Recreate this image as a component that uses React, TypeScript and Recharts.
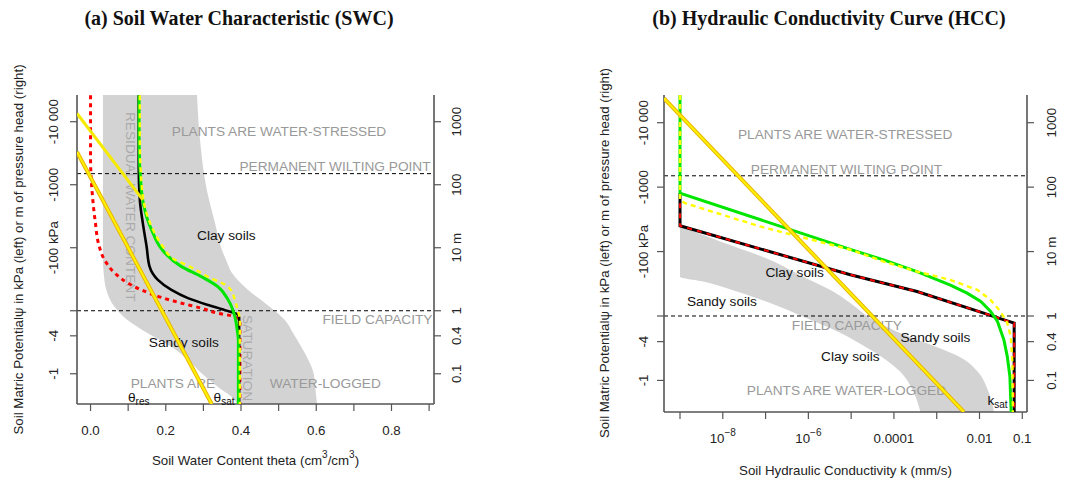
import { ComposedChart, Area, Scatter, XAxis, YAxis, ReferenceLine, ReferenceDot } from "recharts";

const FONT = '"Liberation Sans", Arial, sans-serif';
const SERIF = '"Liberation Serif", "Times New Roman", serif';
const AXIS = "#555";
const NOTE = "#999";

// ---------- (a) soil water characteristic: theta vs log10(kPa) ----------
const swcBandPsi = [4.424, 3.71, 2.92, 2.39, 1.97, 1.81, 1.6, 1.33, 1.06, 0.85, 0.64, 0.43, 0.22, 0.01, -0.21, -0.42, -0.48];
const swcBandLo = [0.033, 0.033, 0.033, 0.033, 0.033, 0.033, 0.035, 0.042, 0.064, 0.099, 0.153, 0.215, 0.259, 0.295, 0.339, 0.384, 0.39];
const swcBandHi = [0.283, 0.291, 0.309, 0.331, 0.349, 0.36, 0.376, 0.419, 0.477, 0.517, 0.539, 0.56, 0.579, 0.593, 0.597, 0.601, 0.602];

const sandTheta = [0.0, 0.0, 0.006, 0.013, 0.021, 0.037, 0.064, 0.099, 0.135, 0.189, 0.242, 0.295, 0.339, 0.375, 0.392, 0.397, 0.397];
const sandPsi = [4.42, 3.44, 2.76, 2.39, 2.07, 1.81, 1.6, 1.44, 1.33, 1.21, 1.12, 1.04, 0.96, 0.92, 0.88, 0.85, -0.48];

const loamTheta = [0.128, 0.128, 0.131, 0.139, 0.149, 0.157, 0.179, 0.215, 0.259, 0.313, 0.357, 0.393, 0.395, 0.395];
const loamPsi = [4.42, 3.29, 2.76, 2.39, 2.02, 1.7, 1.49, 1.33, 1.2, 1.09, 1.01, 0.93, 0.88, -0.48];

const clayTheta = [0.129, 0.129, 0.135, 0.149, 0.166, 0.184, 0.197, 0.242, 0.295, 0.339, 0.366, 0.384, 0.39, 0.393, 0.393];
const clayPsi = [4.42, 3.71, 2.92, 2.49, 2.23, 2.02, 1.92, 1.7, 1.54, 1.38, 1.17, 0.9, 0.69, 0.53, -0.48];

const siltTheta = [0.131, 0.131, 0.137, 0.152, 0.171, 0.192, 0.224, 0.264, 0.312, 0.366, 0.384, 0.391, 0.397, 0.397];
const siltPsi = [4.42, 3.71, 2.92, 2.49, 2.23, 2.02, 1.81, 1.7, 1.54, 1.38, 1.17, 1.01, 0.85, -0.48];

const upperLinTheta = [-0.036, 0.139];
const upperLinPsi = [4.13, 2.76];
const lowerLinTheta = [-0.036, 0.322];
const lowerLinPsi = [3.52, -0.48];

const swcXTicks = [0, 0.1, 0.2, 0.3, 0.4, 0.5, 0.6, 0.7, 0.8, 0.9];
const swcXLabels = ["0.0", "", "0.2", "", "0.4", "", "0.6", "", "0.8", ""];

// ---------- (b) hydraulic conductivity: log10(k) vs log10(kPa) ----------
const hccBandPsi = [2.4, 2.155, 1.87, 1.61, 1.535, 1.38, 1.2, 0.99, 0.76, 0.475, 0.35, 0.135, -0.14, -0.49];
const hccBandLo = [-9.0, -9.0, -9.0, -9.0, -8.46, -7.67, -6.89, -6.12, -5.32, -4.55, -4.25, -3.85, -3.57, -3.38];
const hccBandHi = [-9.0, -8.06, -6.89, -6.12, -5.89, -5.42, -5.02, -4.6, -3.94, -2.84, -2.42, -2.04, -1.81, -1.66];

const kLoamK = [-9.0, -9.0, -5.02, -3.46, -1.9, -1.66, -1.19, -1.19];
const kLoamPsi = [2.905, 2.4, 1.64, 1.38, 1.045, 0.99, 0.89, -0.49];

const kClayK = [-9.0, -9.0, -5.02, -4.24, -3.46, -2.68, -2.29, -1.97, -1.74, -1.58, -1.43, -1.35, -1.29, -1.26];
const kClayPsi = [4.43, 2.905, 2.034, 1.87, 1.69, 1.48, 1.355, 1.225, 1.07, 0.915, 0.63, 0.37, 0.06, -0.49];

const kSiltK = [-9.0, -9.0, -8.88, -7.13, -5.02, -4.24, -3.46, -2.68, -2.05, -1.74, -1.51, -1.35, -1.27, -1.23, -1.22];
const kSiltPsi = [4.43, 2.8, 2.75, 2.39, 2.03, 1.845, 1.69, 1.56, 1.405, 1.25, 1.07, 0.89, 0.68, 0.27, -0.49];

const kLinK = [-9.374, -2.365];
const kLinPsi = [4.378, -0.49];

const hccXTicks = [-9, -8, -7, -6, -5, -4, -3, -2, -1];
const hccXLabels = ["", "10", "", "10", "", "0.0001", "", "0.01", "0.1"];
const hccXSups = ["", "\u22128", "", "\u22126", "", "", "", "", ""];

// shared pressure axis
const psiTicks = [0, 0.602, 1, 2, 3, 4];
const kpaLabels = ["-1", "-4", "", "-100 kPa", "-1000", "-10 000"];
const headLabels = ["0.1", "0.4", "1", "10 m", "100", "1000"];
const PWP = 3.176;
const FC = 1;

type Note = { x: number; y: number; text: string; sub?: string; color?: string; anchor?: "start" | "middle" | "end"; rot?: boolean };

const swcNotes: Note[] = [
  { x: 0.107, y: 2.65, text: "RESIDUAL WATER CONTENT", color: "#aaa", rot: true },
  { x: 0.417, y: 0.25, text: "SATURATION", color: "#aaa", rot: true },
  { x: 0.501, y: 3.84, text: "PLANTS ARE WATER-STRESSED", color: NOTE },
  { x: 0.904, y: 3.29, text: "PERMANENT WILTING POINT", color: NOTE, anchor: "end" },
  { x: 0.909, y: 0.86, text: "FIELD CAPACITY", color: NOTE, anchor: "end" },
  { x: 0.219, y: -0.16, text: "PLANTS ARE", color: NOTE },
  { x: 0.624, y: -0.16, text: "WATER-LOGGED", color: NOTE },
  { x: 0.361, y: 2.19, text: "Clay soils" },
  { x: 0.248, y: 0.5, text: "Sandy soils" },
  { x: 0.128, y: -0.37, text: "\u03b8", sub: "res" },
  { x: 0.355, y: -0.37, text: "\u03b8", sub: "sat" },
];

const hccNotes: Note[] = [
  { x: -5.14, y: 3.82, text: "PLANTS ARE WATER-STRESSED", color: NOTE },
  { x: -5.11, y: 3.28, text: "PERMANENT WILTING POINT", color: NOTE },
  { x: -5.1, y: 0.85, text: "FIELD CAPACITY", color: NOTE },
  { x: -5.11, y: -0.16, text: "PLANTS ARE WATER-LOGGED", color: NOTE },
  { x: -6.32, y: 1.67, text: "Clay soils" },
  { x: -8.02, y: 1.22, text: "Sandy soils" },
  { x: -3.03, y: 0.66, text: "Sandy soils" },
  { x: -5.02, y: 0.37, text: "Clay soils" },
  { x: -1.58, y: -0.31, text: "k", sub: "sat" },
];

const pts = (xs: number[], ys: number[]) => xs.map((x, i) => ({ x, y: ys[i] }));
const band = (ys: number[], lo: number[], hi: number[]) => ys.map((y, i) => ({ y, band: [lo[i], hi[i]] }));

const NoDot = () => null;

const renderNote = (n: Note) => (props: any) => {
  const vb = props.viewBox || { x: 0, y: 0, width: 0, height: 0 };
  const cx = vb.x + (vb.width || 0) / 2;
  const cy = vb.y + (vb.height || 0) / 2;
  return (
    <text
      x={cx}
      y={cy}
      textAnchor={n.anchor ?? "middle"}
      dominantBaseline="central"
      fill={n.color ?? "#111"}
      fontSize={13.7}
      fontFamily={FONT}
      transform={n.rot ? `rotate(90 ${cx} ${cy})` : undefined}
    >
      {n.text}
      {n.sub && (
        <tspan fontSize={10} dy={4}>
          {n.sub}
        </tspan>
      )}
    </text>
  );
};

const yTick = (labels: string[], dx: number) => (p: any) => {
  const x = p.x + dx;
  const y = p.y;
  return (
    <text x={x} y={y} textAnchor="middle" dominantBaseline="central" transform={`rotate(-90 ${x} ${y})`} fontSize={13.3} fontFamily={FONT} fill="#222">
      {labels[p.index]}
    </text>
  );
};

const xTick = (labels: string[], sups?: string[]) => (p: any) => (
  <text x={p.x} y={p.y + 19} textAnchor="middle" dominantBaseline="central" fontSize={13.3} fontFamily={FONT} fill="#222">
    {labels[p.index]}
    {sups && sups[p.index] && (
      <tspan fontSize={10} dy={-6}>
        {sups[p.index]}
      </tspan>
    )}
  </text>
);

const line = (stroke: string, width: number, dash?: string) => ({ stroke, strokeWidth: width, strokeDasharray: dash, fill: "none" });

const axisLine = { stroke: AXIS, strokeWidth: 1.6 };
const tickLine = { stroke: AXIS, strokeWidth: 1.2 };

const App = () => {
  return (
    <div style={{ position: "absolute", left: 0, top: 0, width: 1065, height: 480, background: "#fff" }}>
      {/* (a) SWC */}
      <div style={{ position: "absolute", left: 0, top: 0 }}>
        <ComposedChart layout="vertical" width={484} height={480} data={band(swcBandPsi, swcBandLo, swcBandHi)} margin={{ top: 95, right: 0, bottom: 0, left: 0 }}>
          <XAxis type="number" dataKey="x" domain={[-0.036, 0.913]} ticks={swcXTicks} interval={0} allowDataOverflow height={76} tickSize={7} tickMargin={0} axisLine={axisLine} tickLine={tickLine} tick={xTick(swcXLabels)} />
          <YAxis type="number" dataKey="y" reversed domain={[-0.48, 4.424]} ticks={psiTicks} interval={0} allowDataOverflow width={77} tickSize={7} tickMargin={0} axisLine={axisLine} tickLine={tickLine} tick={yTick(kpaLabels, -16)} />
          <YAxis yAxisId="r" orientation="right" type="number" dataKey="y" reversed domain={[-0.48, 4.424]} ticks={psiTicks} interval={0} allowDataOverflow width={50} tickSize={7} tickMargin={0} axisLine={axisLine} tickLine={tickLine} tick={yTick(headLabels, 16)} />
          <Area dataKey="band" type="monotone" fill="#d3d3d3" fillOpacity={1} stroke="none" isAnimationActive={false} />
          <ReferenceLine y={PWP} stroke="#000" strokeDasharray="4 3" strokeWidth={1} />
          <ReferenceLine y={FC} stroke="#000" strokeDasharray="4 3" strokeWidth={1} />
          {swcNotes.map((n, i) => (
            <ReferenceDot key={i} x={n.x} y={n.y} r={0} fill="none" stroke="none" label={renderNote(n)} />
          ))}
          <Scatter data={pts(sandTheta, sandPsi)} shape={NoDot} lineJointType="monotoneY" line={line("#ff0000", 3, "4 4")} isAnimationActive={false} />
          <Scatter data={pts(loamTheta, loamPsi)} shape={NoDot} lineJointType="monotoneY" line={line("#000", 2.6)} isAnimationActive={false} />
          <Scatter data={pts(clayTheta, clayPsi)} shape={NoDot} lineJointType="monotoneY" line={line("#00e600", 3)} isAnimationActive={false} />
          <Scatter data={pts(siltTheta, siltPsi)} shape={NoDot} lineJointType="monotoneY" line={line("#ffff00", 2.4, "5 4")} isAnimationActive={false} />
          <Scatter data={pts(upperLinTheta, upperLinPsi)} shape={NoDot} line={line("#f5ea00", 3)} isAnimationActive={false} />
          <Scatter data={pts(lowerLinTheta, lowerLinPsi)} shape={NoDot} line={line("#e8b400", 4)} isAnimationActive={false} />
          <Scatter data={pts(lowerLinTheta, lowerLinPsi)} shape={NoDot} line={line("#fff200", 2)} isAnimationActive={false} />
        </ComposedChart>
      </div>

      {/* (b) HCC */}
      <div style={{ position: "absolute", left: 540, top: 0 }}>
        <ComposedChart layout="vertical" width={525} height={480} data={band(hccBandPsi, hccBandLo, hccBandHi)} margin={{ top: 95, right: 0, bottom: 0, left: 0 }}>
          <XAxis type="number" dataKey="x" domain={[-9.374, -0.89]} ticks={hccXTicks} interval={0} allowDataOverflow height={68} tickSize={7} tickMargin={0} axisLine={axisLine} tickLine={tickLine} tick={xTick(hccXLabels, hccXSups)} />
          <YAxis type="number" dataKey="y" reversed domain={[-0.49, 4.43]} ticks={psiTicks} interval={0} allowDataOverflow width={124} tickSize={7} tickMargin={0} axisLine={axisLine} tickLine={tickLine} tick={yTick(kpaLabels, -13)} />
          <YAxis yAxisId="r" orientation="right" type="number" dataKey="y" reversed domain={[-0.49, 4.43]} ticks={psiTicks} interval={0} allowDataOverflow width={38} tickSize={7} tickMargin={0} axisLine={axisLine} tickLine={tickLine} tick={yTick(headLabels, 18)} />
          <Area dataKey="band" type="monotone" fill="#d3d3d3" fillOpacity={1} stroke="none" isAnimationActive={false} />
          <ReferenceLine y={PWP} stroke="#000" strokeDasharray="4 3" strokeWidth={1} />
          <ReferenceLine y={FC} stroke="#000" strokeDasharray="4 3" strokeWidth={1} />
          {hccNotes.map((n, i) => (
            <ReferenceDot key={i} x={n.x} y={n.y} r={0} fill="none" stroke="none" label={renderNote(n)} />
          ))}
          <Scatter data={pts(kLoamK, kLoamPsi)} shape={NoDot} line={line("#000", 3)} isAnimationActive={false} />
          <Scatter data={pts(kLoamK, kLoamPsi)} shape={NoDot} line={line("#ff0000", 2, "5 5")} isAnimationActive={false} />
          <Scatter data={pts(kClayK, kClayPsi)} shape={NoDot} line={line("#00e600", 3)} isAnimationActive={false} />
          <Scatter data={pts(kSiltK, kSiltPsi)} shape={NoDot} line={line("#ffff00", 2.4, "5 4")} isAnimationActive={false} />
          <Scatter data={pts(kLinK, kLinPsi)} shape={NoDot} line={line("#e8b400", 4)} isAnimationActive={false} />
          <Scatter data={pts(kLinK, kLinPsi)} shape={NoDot} line={line("#fff200", 2)} isAnimationActive={false} />
        </ComposedChart>
      </div>

      {/* titles */}
      <svg width={1065} height={480} style={{ position: "absolute", left: 0, top: 0, pointerEvents: "none" }}>
        <text x={239} y={18} textAnchor="middle" dominantBaseline="central" fontFamily={SERIF} fontWeight="bold" fontSize={20} fill="#111">
          (a) Soil Water Characteristic (SWC)
        </text>
        <text x={829} y={18} textAnchor="middle" dominantBaseline="central" fontFamily={SERIF} fontWeight="bold" fontSize={20} fill="#111">
          (b) Hydraulic Conductivity Curve (HCC)
        </text>
        <text x={255.5} y={460} textAnchor="middle" dominantBaseline="central" fontFamily={FONT} fontSize={13.3} fill="#222">
          Soil Water Content theta (cm<tspan fontSize={10} dy={-6}>3</tspan>
          <tspan dy={6}>/cm</tspan>
          <tspan fontSize={10} dy={-6}>3</tspan>
          <tspan dy={6}>)</tspan>
        </text>
        <text x={845.5} y={470} textAnchor="middle" dominantBaseline="central" fontFamily={FONT} fontSize={13.3} fill="#222">
          Soil Hydraulic Conductivity k (mm/s)
        </text>
        <text x={18} y={249.5} textAnchor="middle" dominantBaseline="central" transform="rotate(-90 18 249.5)" fontFamily={FONT} fontSize={13.3} fill="#222">
          Soil Matric Potential{"\u03c8"} in kPa (left) or m of pressure head (right)
        </text>
        <text x={604} y={253} textAnchor="middle" dominantBaseline="central" transform="rotate(-90 604 253)" fontFamily={FONT} fontSize={13.3} fill="#222">
          Soil Matric Potential{"\u03c8"} in kPa (left) or m of pressure head (right)
        </text>
      </svg>
    </div>
  );
};

export default App;
